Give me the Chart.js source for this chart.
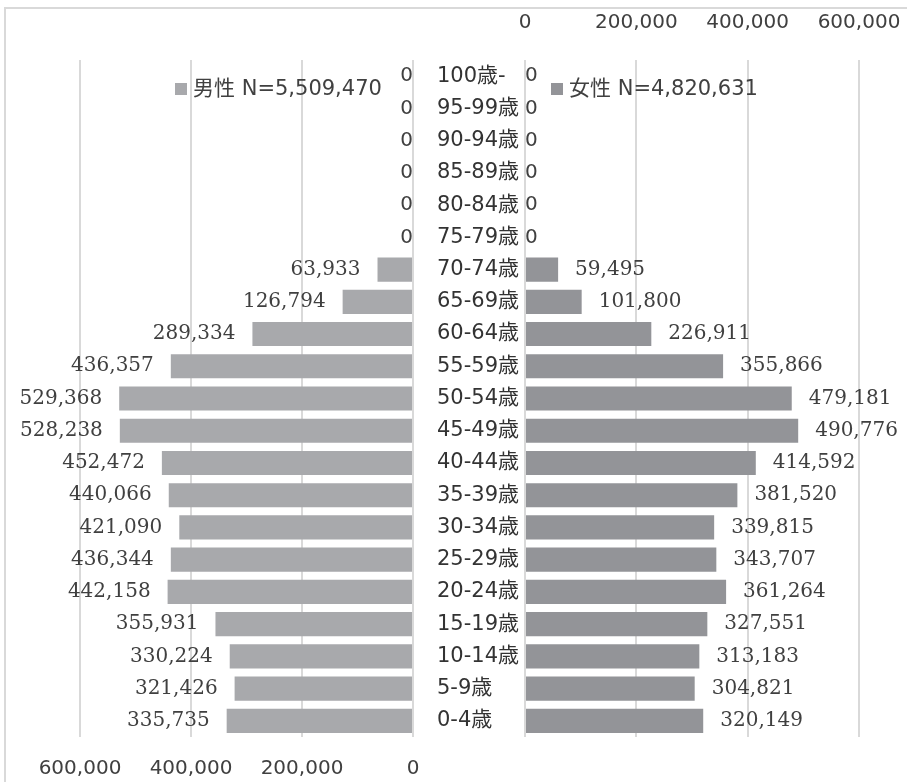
<!DOCTYPE html>
<html>
<head>
<meta charset="utf-8">
<script src="https://cdn.jsdelivr.net/npm/chart.js@4/dist/chart.umd.min.js"></script>
<style>
  html, body { margin: 0; padding: 0; background: #fff; }
  #wrap { position: relative; width: 907px; height: 782px; overflow: hidden; }
  #frame { position: absolute; left: 4px; top: 7px; width: 910px; height: 790px;
           border-top: 2px solid #D9D9D9; border-left: 2px solid #D9D9D9; }
  canvas { position: absolute; top: 0; }
  #cMale { left: 0; }
  #cFemale { left: 413px; }
  .legend { position: absolute; top: 76px; font: 21px "DejaVu Sans", "Noto Sans CJK JP", sans-serif;
            color: #404040; white-space: nowrap; line-height: 24px; }
  .legend .sw { display: inline-block; width: 12px; height: 12px; margin-right: 6px; vertical-align: 0px; }
</style>
</head>
<body>
<div id="wrap">
  <div id="frame"></div>
  <canvas id="cMale" width="440" height="782"></canvas>
  <canvas id="cFemale" width="494" height="782"></canvas>
  <div class="legend" id="legMale" style="left:175px"><span class="sw" id="swMale"></span><span id="txtMale"></span></div>
  <div class="legend" id="legFemale" style="left:551px"><span class="sw" id="swFemale"></span><span id="txtFemale"></span></div>
</div>
<script>
// ---- data ----
const categories = ['0-4歳','5-9歳','10-14歳','15-19歳','20-24歳','25-29歳','30-34歳','35-39歳','40-44歳','45-49歳','50-54歳','55-59歳','60-64歳','65-69歳','70-74歳','75-79歳','80-84歳','85-89歳','90-94歳','95-99歳','100歳-'];
const maleValues   = [335735, 321426, 330224, 355931, 442158, 436344, 421090, 440066, 452472, 528238, 529368, 436357, 289334, 126794, 63933, 0, 0, 0, 0, 0, 0];
const femaleValues = [320149, 304821, 313183, 327551, 361264, 343707, 339815, 381520, 414592, 490776, 479181, 355866, 226911, 101800, 59495, 0, 0, 0, 0, 0, 0];
const maleLabel = '男性 N=5,509,470';
const femaleLabel = '女性 N=4,820,631';
const tickValues = [0, 200000, 400000, 600000];

// ---- styles ----
const maleColor = '#A8A9AC';
const femaleColor = '#939498';
const gridColor = '#D9D9D9';
const textColor = '#404040';
const sansFont = '"DejaVu Sans", "Noto Sans CJK JP", sans-serif';
const serifFont = '"DejaVu Serif", serif';

document.getElementById('swMale').style.background = maleColor;
document.getElementById('swFemale').style.background = femaleColor;
document.getElementById('txtMale').textContent = maleLabel;
document.getElementById('txtFemale').textContent = femaleLabel;

const fmt = v => Number(v).toLocaleString('en-US');

function valueLabels(side) {
  return {
    id: 'valueLabels' + side,
    afterDatasetsDraw(chart) {
      const ctx = chart.ctx;
      const meta = chart.getDatasetMeta(0);
      const data = chart.data.datasets[0].data;
      ctx.save();
      ctx.fillStyle = textColor;
      ctx.textBaseline = 'middle';
      meta.data.forEach((bar, i) => {
        const v = data[i];
        const zero = v === 0;
        ctx.font = (zero ? '20px ' + sansFont : '20px ' + serifFont);
        if (side === 'left') {
          ctx.textAlign = 'right';
          ctx.fillText(fmt(v), bar.x - (zero ? 0 : 17), bar.y);
        } else {
          ctx.textAlign = 'left';
          ctx.fillText(fmt(v), bar.x + (zero ? 0 : 17), bar.y);
        }
      });
      ctx.restore();
    }
  };
}

const setTicks = s => { s.ticks = tickValues.map(v => ({ value: v })); };

new Chart(document.getElementById('cMale'), {
  type: 'bar',
  data: { labels: categories, datasets: [{ label: maleLabel, data: maleValues, backgroundColor: maleColor,
          barPercentage: 0.75, categoryPercentage: 1.0 }] },
  options: {
    indexAxis: 'y', responsive: false, animation: false, devicePixelRatio: 1,
    layout: { padding: { left: 80, right: 27, top: 60, bottom: 0 } },
    plugins: { legend: { display: false }, tooltip: { enabled: false } },
    scales: {
      x: {
        position: 'bottom', reverse: true, min: 0, max: 600000,
        afterBuildTicks: setTicks,
        afterFit: s => { s.height = 45; },
        grid: { color: gridColor, lineWidth: 2, drawTicks: true, tickLength: 20, tickColor: 'rgba(0,0,0,0)' },
        border: { display: false },
        ticks: { padding: 0, color: textColor, font: { family: sansFont, size: 20 }, maxRotation: 0,
                 callback: v => fmt(v) }
      },
      y: { reverse: true, display: false, grid: { display: false } }
    }
  },
  plugins: [valueLabels('left')]
});

new Chart(document.getElementById('cFemale'), {
  type: 'bar',
  data: { labels: categories, datasets: [{ label: femaleLabel, data: femaleValues, backgroundColor: femaleColor,
          barPercentage: 0.75, categoryPercentage: 1.0 }] },
  options: {
    indexAxis: 'y', responsive: false, animation: false, devicePixelRatio: 1,
    layout: { padding: { left: 24, right: 48, top: 0, bottom: 45 } },
    plugins: { legend: { display: false }, tooltip: { enabled: false } },
    scales: {
      x: {
        position: 'top', min: 0, max: 600000,
        afterBuildTicks: setTicks,
        afterFit: s => { s.height = 60; },
        grid: { color: gridColor, lineWidth: 2, drawTicks: true, tickLength: 25, tickColor: 'rgba(0,0,0,0)' },
        border: { display: false },
        ticks: { padding: 0, color: textColor, font: { family: sansFont, size: 20 }, maxRotation: 0,
                 callback: v => fmt(v) }
      },
      y: {
        reverse: true,
        afterFit: s => { s.width = 88; },
        grid: { display: false, drawTicks: false },
        border: { display: false },
        ticks: { crossAlign: 'far', padding: 0, color: '#333333', font: { family: sansFont, size: 21 }, autoSkip: false }
      }
    }
  },
  plugins: [valueLabels('right')]
});
</script>
</body>
</html>
